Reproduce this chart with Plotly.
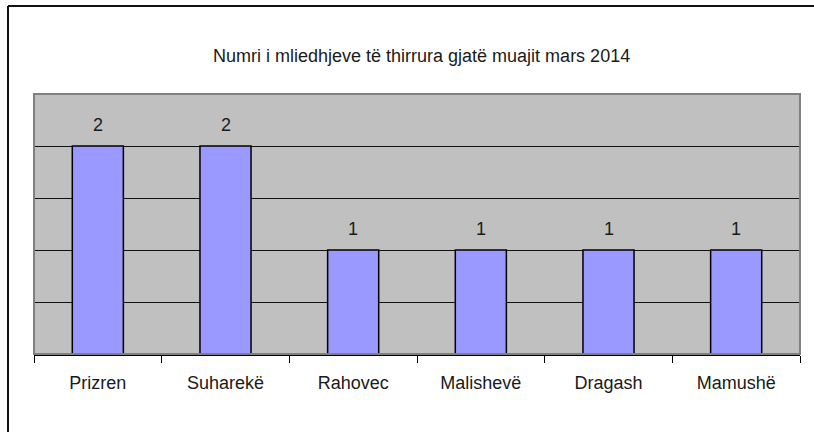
import plotly.graph_objects as go

categories = ["Prizren", "Suharekë", "Rahovec", "Malishevë", "Dragash", "Mamushë"]
values = [2, 2, 1, 1, 1, 1]
title_text = "Numri i mliedhjeve të thirrura gjatë muajit mars 2014"

W, H = 814, 432
L, R, T, B = 34, 14, 94, 78
pw, ph = W - L - R, H - T - B

def px_x(px):
    return (px - L) / pw

def px_y(py):
    return (H - B - py) / ph

font = "Liberation Sans, Arial, sans-serif"
txt_color = "#1a1a1a"

fig = go.Figure(go.Bar(
    x=categories, y=values,
    marker=dict(color="#9999FF", line=dict(color="#000000", width=1.5)),
    width=0.4,
))

annotations = [dict(text=title_text, x=px_x(421), y=px_y(44), xref="paper", yref="paper",
                    showarrow=False, font=dict(family=font, size=18, color=txt_color))]
for c, v in zip(categories, values):
    annotations.append(dict(x=c, y=v, xref="x", yref="y", text=str(v), showarrow=False,
                            yshift=21, font=dict(family=font, size=18, color=txt_color)))

fig.update_layout(
    width=W, height=H,
    margin=dict(l=L, r=R, t=T, b=B),
    paper_bgcolor="white", plot_bgcolor="#C0C0C0",
    showlegend=False,
    xaxis=dict(showline=True, linecolor="#000000", linewidth=1.5,
               ticks="outside", tickson="boundaries", ticklen=7, tickcolor="#000000",
               ticklabelstandoff=12,
               tickfont=dict(family=font, size=18, color=txt_color),
               showgrid=False, fixedrange=True),
    yaxis=dict(range=[0, 2.5], dtick=0.5, showticklabels=False, showgrid=True,
               gridcolor="#111111", gridwidth=1.4, zeroline=False, showline=False,
               fixedrange=True),
    annotations=annotations,
    shapes=[
        dict(type="rect", xref="paper", yref="paper", x0=0, x1=1, y0=0, y1=1,
             line=dict(color="#808080", width=2), layer="above"),
        dict(type="line", xref="paper", yref="paper", x0=px_x(8), x1=px_x(820),
             y0=px_y(6), y1=px_y(6), line=dict(color="#111111", width=2)),
        dict(type="line", xref="paper", yref="paper", x0=px_x(8), x1=px_x(8),
             y0=px_y(6), y1=px_y(440), line=dict(color="#111111", width=2)),
    ],
)

fig.write_html("out.html", config={"displayModeBar": False},
               post_script="document.body.style.margin='0px';")
